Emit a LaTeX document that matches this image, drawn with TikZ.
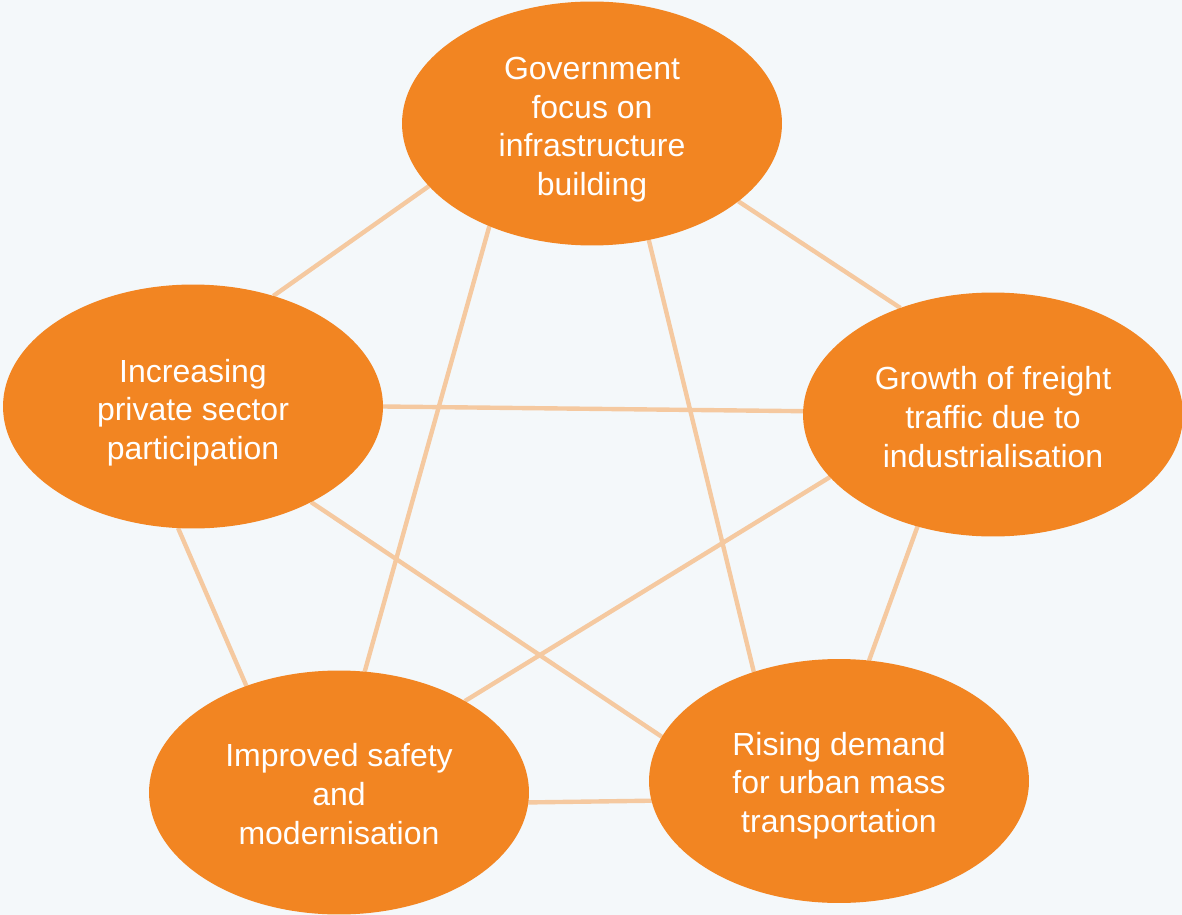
\documentclass[tikz,border=0pt]{standalone}
\usepackage{fontspec}
\setmainfont{Liberation Sans}
\usetikzlibrary{shapes.geometric,backgrounds}
\definecolor{bgc}{HTML}{F4F8FA}
\definecolor{orng}{HTML}{F28522}
\definecolor{linec}{HTML}{F5C9A0}
\begin{document}
\begin{tikzpicture}[x=0.02cm,y=-0.02cm,
  bubble/.style={ellipse,fill=orng,draw=none,inner sep=0pt,outer sep=0pt,
    minimum width=7.6cm,minimum height=4.88cm},
  label text/.style={text=white,align=center,inner sep=0pt,
    font=\fontsize{18.2}{22}\selectfont},
  link/.style={draw=linec,line width=2.5pt}]
\useasboundingbox (0,0) rectangle (1182,915);
\node[bubble] (top) at (592,123.5) {};
\node[bubble] (left) at (193,406.5) {};
\node[bubble] (right) at (993,414.5) {};
\node[bubble] (bl) at (339,792.5) {};
\node[bubble] (br) at (839,781) {};
\node[label text] (toptext) at ([yshift=-6*0.02cm]top.center) {Government\\focus on\\infrastructure\\building};
\node[label text] (lefttext) at ([yshift=-6*0.02cm]left.center) {Increasing\\private sector\\participation};
\node[label text] (righttext) at ([yshift=-2.5*0.02cm]right.center) {Growth of freight\\traffic due to\\industrialisation};
\node[label text] (bltext) at ([yshift=-1.5*0.02cm]bl.center) {Improved safety\\and\\modernisation};
\node[label text] (brtext) at ([yshift=-4.5*0.02cm]br.center) {Rising demand\\for urban mass\\transportation};
\begin{pgfonlayer}{background}
\fill[bgc] (0,0) rectangle (1182,915);
\draw[link] (top.201) -- (left.54);
\draw[link] (top.332.7) -- (right.131.1);
\draw[link] (top.225.7) -- (bl.78.3);
\draw[link] (top.296.5) -- (br.128.8);
\draw[link] (left.0) -- (right.179);
\draw[link] (left.263.4) -- (bl.131.1);
\draw[link] (left.321) -- (br.166.7);
\draw[link] (right.201.8) -- (bl.36.3);
\draw[link] (right.236.9) -- (br.76.5);
\draw[link] (bl.357.3) -- (br.186.2);
\end{pgfonlayer}
\end{tikzpicture}
\end{document}
